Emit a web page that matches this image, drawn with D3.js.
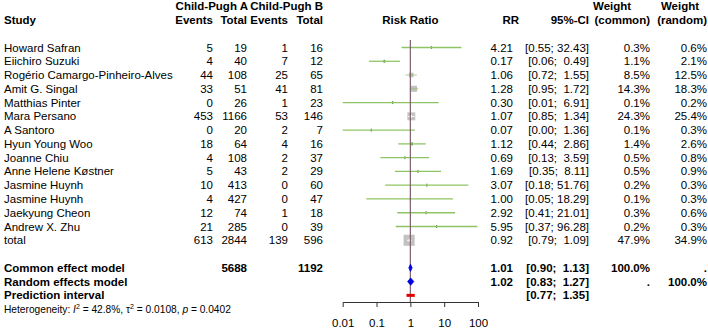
<!DOCTYPE html>
<html lang="en">
<head>
<meta charset="UTF-8">
<title>Forest plot - Child-Pugh A vs B</title>
<script src="https://cdn.jsdelivr.net/npm/d3@7"></script>
<style>
  body { margin: 0; background: #fff; }
  svg text { font-family: "Liberation Sans", Arial, sans-serif; font-size: 11.5px; fill: #000; white-space: pre; }
  .bold { font-weight: bold; }
</style>
</head>
<body>
<div id="chart"></div>
<script>

// study level data (last entry is the pooled "total" row)
var studies = ["Howard Safran", "Eiichiro Suzuki", "Rogério Camargo-Pinheiro-Alves", "Amit G. Singal",
  "Matthias Pinter", "Mara Persano", "A Santoro", "Hyun Young Woo", "Joanne Chiu", "Anne Helene Køstner",
  "Jasmine Huynh", "Jasmine Huynh", "Jaekyung Cheon", "Andrew X. Zhu", "total"];
var eventsA = [5, 4, 44, 33, 0, 453, 0, 18, 4, 5, 10, 4, 12, 21, 613];
var totalA  = [19, 40, 108, 51, 26, 1166, 20, 64, 108, 43, 413, 427, 74, 285, 2844];
var eventsB = [1, 7, 25, 41, 1, 53, 2, 4, 2, 2, 0, 0, 1, 0, 139];
var totalB  = [16, 12, 65, 81, 23, 146, 7, 16, 37, 29, 60, 47, 18, 39, 596];
var rr      = [4.21, 0.17, 1.06, 1.28, 0.30, 1.07, 0.07, 1.12, 0.69, 1.69, 3.07, 1.00, 2.92, 5.95, 0.92];
var lower   = [0.55, 0.06, 0.72, 0.95, 0.01, 0.85, 0.00, 0.44, 0.13, 0.35, 0.18, 0.05, 0.41, 0.37, 0.79];
var upper   = [32.43, 0.49, 1.55, 1.72, 6.91, 1.34, 1.36, 2.86, 3.59, 8.11, 51.76, 18.29, 21.01, 96.28, 1.09];
var wCommon = [0.3, 1.1, 8.5, 14.3, 0.1, 24.3, 0.1, 1.4, 0.5, 0.5, 0.2, 0.1, 0.3, 0.2, 47.9];
var wRandom = [0.6, 2.1, 12.5, 18.3, 0.2, 25.4, 0.3, 2.6, 0.8, 0.9, 0.3, 0.3, 0.6, 0.3, 34.9];

// pooled estimates
var models   = ["Common effect model", "Random effects model", "Prediction interval"];
var modelRR  = [1.01, 1.02, null];
var modelLo  = [0.90, 0.83, 0.77];
var modelHi  = [1.13, 1.27, 1.35];
var modelWC  = ["100.0%", ".", ""];
var modelWR  = [".", "100.0%", ""];
var pooledN  = [5688, 1192];

var axisTicks = [0.01, 0.1, 1, 10, 100];

var width = 708, height = 328;

var svg = d3.select("#chart").append("svg")
    .attr("width", width)
    .attr("height", height);

// row positions
function rowY(i) { return 47.5 + i * 13.77; }

var x = d3.scaleLog().domain([0.01, 100]).range([342.7, 478]).clamp(true);

// column right edges
var col = { evA: 213, totA: 247, evB: 288, totB: 323, rr: 513, ci: 589, wc: 650, wr: 707 };

function txt(xp, yp, s, anchor, cls) {
  return svg.append("text")
      .attr("x", xp)
      .attr("y", yp)
      .attr("dy", "0.35em")
      .attr("text-anchor", anchor || "end")
      .attr("class", cls || null)
      .text(s);
}

function pad(v, n) {
  var s = v.toFixed(2);
  while (s.length < n) s = " " + s;
  return s;
}
function ciText(lo, hi) { return "[" + pad(lo, 4) + "; " + pad(hi, 5) + "]"; }

// header
txt(248, rowY(-3), "Child-Pugh A", "end", "bold");
txt(323, rowY(-3), "Child-Pugh B", "end", "bold");
txt(4, rowY(-2), "Study", "start", "bold");
txt(col.evA, rowY(-2), "Events", "end", "bold");
txt(col.totA, rowY(-2), "Total", "end", "bold");
txt(col.evB, rowY(-2), "Events", "end", "bold");
txt(col.totB, rowY(-2), "Total", "end", "bold");
txt(x(1), rowY(-2), "Risk Ratio", "middle", "bold");
txt(519, rowY(-2), "RR", "end", "bold");
txt(col.ci, rowY(-2), "95%-CI", "end", "bold");
txt(593, rowY(-3), "Weight", "start", "bold");
txt(col.wc, rowY(-2), "(common)", "end", "bold");
txt(680, rowY(-3), "Weight", "middle", "bold");
txt(col.wr, rowY(-2), "(random)", "end", "bold");

// study rows text
studies.forEach(function(s, i) {
  var y = rowY(i);
  txt(4, y, s, "start");
  txt(col.evA, y, eventsA[i]);
  txt(col.totA, y, totalA[i]);
  txt(col.evB, y, eventsB[i]);
  txt(col.totB, y, totalB[i]);
  txt(col.rr, y, rr[i].toFixed(2));
  txt(col.ci, y, ciText(lower[i], upper[i]));
  txt(col.wc, y, wCommon[i].toFixed(1) + "%");
  txt(col.wr, y, wRandom[i].toFixed(1) + "%");
});

// model rows text
models.forEach(function(m, j) {
  var y = rowY(16 + j);
  txt(4, y, m, "start", "bold");
  if (modelRR[j] !== null) txt(col.rr, y, modelRR[j].toFixed(2), "end", "bold");
  txt(col.ci, y, ciText(modelLo[j], modelHi[j]), "end", "bold");
  txt(col.wc, y, modelWC[j], "end", "bold");
  txt(col.wr, y, modelWR[j], "end", "bold");
});
txt(col.totA, rowY(16), pooledN[0], "end", "bold");
txt(col.totB, rowY(16), pooledN[1], "end", "bold");

// heterogeneity line
var het = svg.append("text")
    .attr("x", 4).attr("y", rowY(19)).attr("dy", "0.35em")
    .style("font-size", "10.2px");
het.append("tspan").text("Heterogeneity: ");
het.append("tspan").style("font-style", "italic").text("I");
het.append("tspan").attr("dy", "-4").style("font-size", "7px").text("2");
het.append("tspan").attr("dy", "4").text(" = 42.8%, \u03c4");
het.append("tspan").attr("dy", "-4").style("font-size", "7px").text("2");
het.append("tspan").attr("dy", "4").text(" = 0.0108, ");
het.append("tspan").style("font-style", "italic").text("p");
het.append("tspan").text(" = 0.0402");

var plot = svg.append("g");

// squares, size by common weight
function side(i) { return 1.6 * Math.sqrt(wCommon[i]); }
plot.selectAll("rect.sq")
  .data(studies)
  .enter()
  .append("rect")
    .attr("class", "sq")
    .attr("x", function(d, i) { return x(rr[i]) - Math.max(side(i), 1.2) / 2; })
    .attr("y", function(d, i) { return rowY(i) - Math.max(side(i), 3) / 2; })
    .attr("width", function(d, i) { return Math.max(side(i), 1.2); })
    .attr("height", function(d, i) { return Math.max(side(i), 3); })
    .attr("fill", function(d, i) { return side(i) > 3 ? "#c2c2c2" : "#5f9a3a"; });

// confidence interval lines
plot.selectAll("line.ci")
  .data(studies)
  .enter()
  .append("line")
    .attr("class", "ci")
    .attr("x1", function(d, i) { return x(Math.max(lower[i], 0.01)); })
    .attr("x2", function(d, i) { return x(upper[i]); })
    .attr("y1", function(d, i) { return rowY(i); })
    .attr("y2", function(d, i) { return rowY(i); })
    .attr("stroke", "#8fc465")
    .attr("stroke-opacity", function(d, i) { return side(i) > 3 ? 0.6 : 1; })
    .attr("stroke-width", 1.3);

// white CI part inside the big squares
studies.forEach(function(s, i) {
  var h = side(i) / 2;
  if (h < 3.5) return;
  var cx = x(rr[i]), y = rowY(i);
  var a = Math.max(x(Math.max(lower[i], 0.01)), cx - h), b = Math.min(x(upper[i]), cx + h);
  plot.append("line").attr("x1", a).attr("x2", b).attr("y1", y).attr("y2", y)
      .attr("stroke", "#fff").attr("stroke-width", 1);
  plot.append("line").attr("x1", cx).attr("x2", cx).attr("y1", y - 1.5).attr("y2", y + 1.5)
      .attr("stroke", "#fff").attr("stroke-width", 1);
});

// reference line at 1
plot.append("line")
    .attr("x1", x(1)).attr("x2", x(1))
    .attr("y1", 40).attr("y2", 302)
    .attr("stroke", "#7d5d6d")
    .attr("stroke-width", 1.2);

// diamonds
[0, 1].forEach(function(j) {
  var y = rowY(16 + j), hh = 3.6;
  var pts = [[x(modelLo[j]), y], [x(modelRR[j]), y - hh], [x(modelHi[j]), y], [x(modelRR[j]), y + hh]];
  plot.append("polygon")
      .attr("points", pts.map(function(p) { return p.join(","); }).join(" "))
      .attr("fill", "#0000e0")
      .attr("stroke", "#0000e0")
      .attr("stroke-width", 0.8);
});

// prediction interval
plot.append("rect")
    .attr("x", x(modelLo[2]))
    .attr("y", rowY(18) - 1.5)
    .attr("width", x(modelHi[2]) - x(modelLo[2]))
    .attr("height", 3)
    .attr("fill", "#e00000");

// x axis
var axis = svg.append("g")
    .attr("transform", "translate(0,302)")
    .call(d3.axisBottom(x).tickValues(axisTicks).tickFormat(function(d) { return d; })
      .tickSize(5).tickSizeOuter(0).tickPadding(12));
axis.selectAll("text").style("font-size", "11.5px");
axis.select(".domain").attr("stroke", "#333");
axis.selectAll(".tick line").attr("stroke", "#333");

</script>
</body>
</html>
